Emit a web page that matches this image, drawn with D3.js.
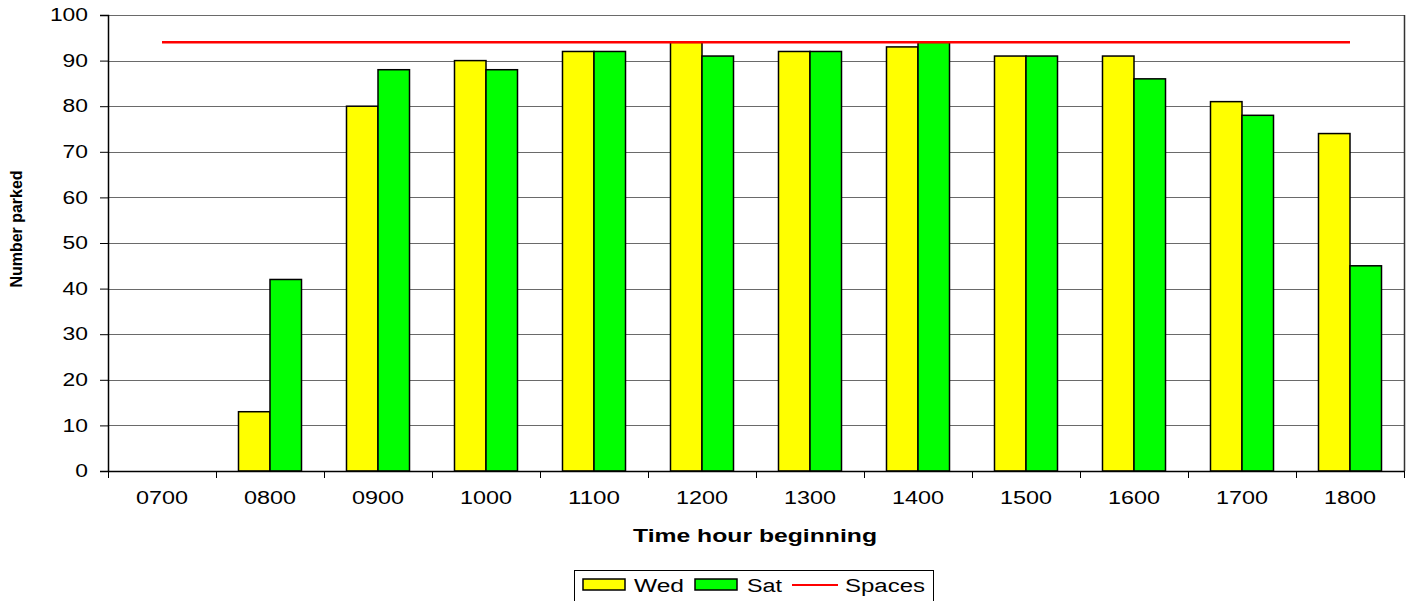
<!DOCTYPE html>
<html>
<head>
<meta charset="utf-8">
<script src="https://cdn.jsdelivr.net/npm/d3@7"></script>
<style>
  html, body { margin: 0; padding: 0; background: #fff; }
  svg { display: block; font-family: Arial, "Liberation Sans", sans-serif; }
</style>
</head>
<body>
<svg id="chart" width="1415" height="601"></svg>
<script>
const categories = ["0700","0800","0900","1000","1100","1200","1300","1400","1500","1600","1700","1800"];
const wed = [0, 13, 80, 90, 92, 94, 92, 93, 91, 91, 81, 74];
const sat = [0, 42, 88, 88, 92, 91, 92, 94, 91, 86, 78, 45];
const spaces = [94, 94, 94, 94, 94, 94, 94, 94, 94, 94, 94, 94];
const seriesNames = ["Wed", "Sat"];
const seriesColors = ["#ffff00", "#00ff00"];
const yTicks = [0, 10, 20, 30, 40, 50, 60, 70, 80, 90, 100];

const svg = d3.select("#chart");
const m = { left: 108, right: 1404, top: 15, bottom: 471 };

const x0 = d3.scaleBand().domain(categories).range([m.left, m.right]).paddingInner(0).paddingOuter(0);
const x1 = d3.scaleBand().domain(seriesNames).range([0, x0.bandwidth()]).paddingInner(0).paddingOuter(0.714);
const y = d3.scaleLinear().domain([0, 100]).range([m.bottom, m.top]);

// gridlines
svg.append("g").selectAll("line").data(yTicks.filter(d => d > 0)).join("line")
  .attr("x1", m.left).attr("x2", m.right)
  .attr("y1", d => Math.round(y(d)) + 0.5).attr("y2", d => Math.round(y(d)) + 0.5)
  .attr("stroke", "#6a6a6a").attr("stroke-width", 1);

// right border
svg.append("line").attr("x1", m.right + 0.5).attr("x2", m.right + 0.5)
  .attr("y1", m.top).attr("y2", m.bottom).attr("stroke", "#333").attr("stroke-width", 1.5);

// bars
const rows = categories.map((c, i) => ({ cat: c, vals: [wed[i], sat[i]] }));
const g = svg.append("g");
rows.forEach(r => {
  r.vals.forEach((v, j) => {
    if (v <= 0) return;
    g.append("rect")
      .attr("x", x0(r.cat) + x1(seriesNames[j]))
      .attr("y", y(v))
      .attr("width", x1.bandwidth())
      .attr("height", y(0) - y(v))
      .attr("fill", seriesColors[j])
      .attr("stroke", "#000").attr("stroke-width", 1.5);
  });
});

// Spaces line
const line = d3.line().x((d, i) => x0(categories[i]) + x0.bandwidth() / 2).y(d => y(d));
svg.append("path").datum(spaces).attr("d", line)
  .attr("fill", "none").attr("stroke", "#ff0000").attr("stroke-width", 2.5);

// Y axis
const yAxis = d3.axisLeft(y).tickValues(yTicks).tickSize(8).tickPadding(4).tickFormat(d3.format("d"));
const ya = svg.append("g").attr("transform", `translate(${m.left},0)`).call(yAxis);
ya.select(".domain").attr("stroke", "#000").attr("stroke-width", 1.5);
ya.selectAll(".tick line").attr("stroke", "#000");
ya.selectAll(".tick text").attr("font-size", 18).attr("fill", "#000")
  .attr("font-family", "Arial, 'Liberation Sans', sans-serif")
  .attr("x", -20)
  .attr("textLength", d => String(d).length * 12.7).attr("lengthAdjust", "spacingAndGlyphs");

// X axis
const xTickScale = d3.scaleLinear().domain([0, categories.length]).range([m.left, m.right]);
const xa = svg.append("g").attr("transform", `translate(0,${m.bottom})`)
  .call(d3.axisBottom(x0).tickSize(0).tickPadding(20));
xa.select(".domain").attr("stroke", "#000").attr("stroke-width", 1.5);
xa.selectAll(".tick text").attr("font-size", 18).attr("fill", "#000")
  .attr("font-family", "Arial, 'Liberation Sans', sans-serif")
  .attr("textLength", 52).attr("lengthAdjust", "spacingAndGlyphs");
svg.append("g").selectAll("line").data(d3.range(categories.length + 1)).join("line")
  .attr("x1", d => Math.round(xTickScale(d)) + 0.5).attr("x2", d => Math.round(xTickScale(d)) + 0.5)
  .attr("y1", m.bottom).attr("y2", m.bottom + 7)
  .attr("stroke", "#000").attr("stroke-width", 1);

// Axis titles
svg.append("text").attr("x", 755).attr("y", 542).attr("text-anchor", "middle")
  .attr("font-size", 18).attr("font-weight", "bold")
  .attr("textLength", 244).attr("lengthAdjust", "spacingAndGlyphs")
  .text("Time hour beginning");
svg.append("text").attr("transform", "translate(22,229) rotate(-90)").attr("text-anchor", "middle")
  .attr("font-size", 16).attr("font-weight", "bold")
  .attr("textLength", 117).attr("lengthAdjust", "spacingAndGlyphs")
  .text("Number parked");

// Legend
const lg = svg.append("g");
lg.append("rect").attr("x", 574.5).attr("y", 570.5).attr("width", 359).attr("height", 40)
  .attr("fill", "#fff").attr("stroke", "#000").attr("stroke-width", 1);
const legendItems = [
  { name: "Wed", type: "rect", color: seriesColors[0], sx: 583, tx: 634, tw: 50 },
  { name: "Sat", type: "rect", color: seriesColors[1], sx: 695, tx: 747, tw: 35 },
  { name: "Spaces", type: "line", color: "#ff0000", sx: 792, tx: 845, tw: 80 }
];
legendItems.forEach(it => {
  if (it.type === "rect") {
    lg.append("rect").attr("x", it.sx).attr("y", 579).attr("width", 42).attr("height", 11)
      .attr("fill", it.color).attr("stroke", "#000").attr("stroke-width", 1.5);
  } else {
    lg.append("line").attr("x1", it.sx).attr("x2", it.sx + 46).attr("y1", 585).attr("y2", 585)
      .attr("stroke", it.color).attr("stroke-width", 2);
  }
  lg.append("text").attr("x", it.tx).attr("y", 592).attr("font-size", 18)
    .attr("textLength", it.tw).attr("lengthAdjust", "spacingAndGlyphs").text(it.name);
});
</script>
</body>
</html>
